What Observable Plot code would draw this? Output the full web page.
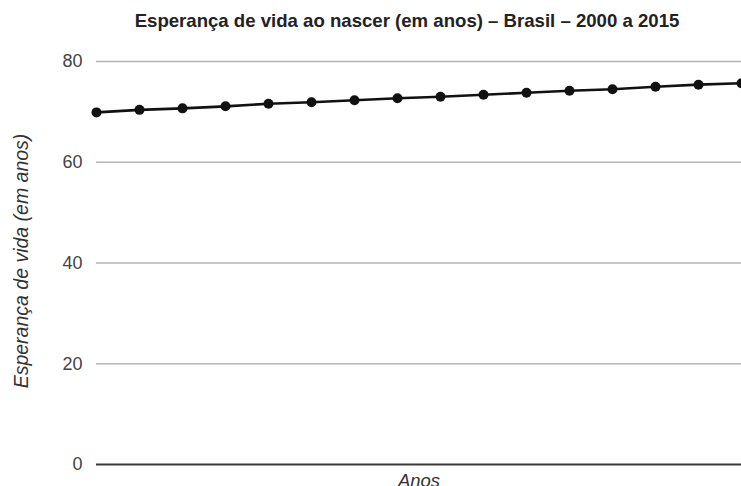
<!DOCTYPE html>
<html>
<head>
<meta charset="utf-8">
<script src="https://cdn.jsdelivr.net/npm/d3@7"></script>
<script src="https://cdn.jsdelivr.net/npm/@observablehq/plot@0.6"></script>
<style>
  html, body { margin: 0; padding: 0; background: #fff; }
  #chart svg { display: block; }
</style>
</head>
<body>
<div id="chart"></div>
<script>
const years = [2000, 2001, 2002, 2003, 2004, 2005, 2006, 2007, 2008, 2009, 2010, 2011, 2012, 2013, 2014, 2015];
const lifeExpectancy = [69.9, 70.4, 70.7, 71.1, 71.6, 71.9, 72.3, 72.7, 73.0, 73.4, 73.8, 74.2, 74.5, 75.0, 75.4, 75.7];
const yTicks = [0, 20, 40, 60, 80];
const titleText = "Esperança de vida ao nascer (em anos) – Brasil – 2000 a 2015";
const yLabel = "Esperança de vida (em anos)";
const xLabel = "Anos";

const data = years.map((y, i) => ({year: y, value: lifeExpectancy[i]}));
const gridValues = yTicks.filter(v => v !== 0);

const W = 741, H = 486;
const chart = Plot.plot({
  width: W,
  height: H,
  marginLeft: 96,
  marginRight: 0,
  marginTop: 61,
  marginBottom: 22,
  style: {fontFamily: "'Liberation Sans', Arial, sans-serif", background: "#fff", overflow: "hidden"},
  x: {domain: [2000, 2015], axis: null},
  y: {domain: [0, 80], axis: null},
  marks: [
    Plot.axisY(yTicks, {tickSize: 0, tickPadding: 14, label: null, fontSize: 18, fill: "#444", tickFormat: d => String(d)}),
    Plot.ruleY(gridValues, {stroke: "#b5b5b5", strokeWidth: 1.6}),
    Plot.ruleY([0], {stroke: "#3a3a3a", strokeWidth: 2}),
    Plot.line(data, {x: "year", y: "value", stroke: "#111", strokeWidth: 2.6}),
    Plot.dot(data, {x: "year", y: "value", r: 5, fill: "#111", stroke: "none"})
  ]
});

const svg = d3.select(chart);
svg.append("text")
  .attr("x", 407).attr("y", 27)
  .attr("text-anchor", "middle")
  .attr("font-size", 18.6).attr("font-weight", "bold").attr("fill", "#222")
  .text(titleText);
svg.append("text")
  .attr("transform", "translate(28,261) rotate(-90)")
  .attr("text-anchor", "middle")
  .attr("font-size", 19.5).attr("font-style", "italic").attr("fill", "#333")
  .text(yLabel);
svg.append("text")
  .attr("x", 419).attr("y", 487)
  .attr("text-anchor", "middle")
  .attr("font-size", 18.5).attr("font-style", "italic").attr("fill", "#333")
  .text(xLabel);

document.getElementById("chart").appendChild(chart);
</script>
</body>
</html>
